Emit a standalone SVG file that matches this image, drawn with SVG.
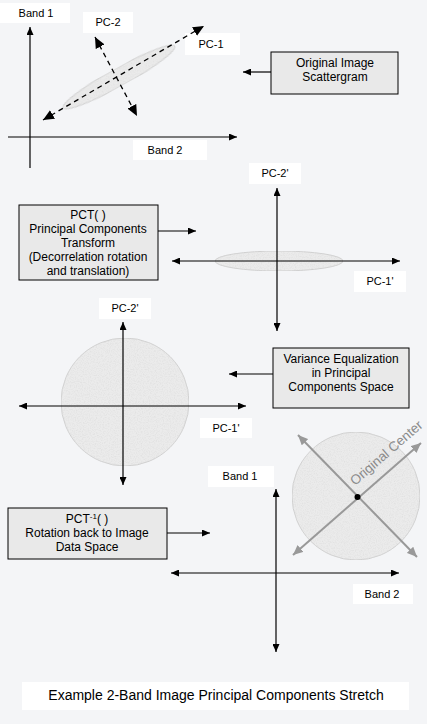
<svg xmlns="http://www.w3.org/2000/svg" width="427" height="724" viewBox="0 0 427 724">
<defs>
<marker id="ah" markerUnits="userSpaceOnUse" markerWidth="9" markerHeight="7" refX="8" refY="3.5" orient="auto-start-reverse"><path d="M0,0 L8,3.5 L0,7 z" fill="#000"/></marker>
<marker id="ahb" markerUnits="userSpaceOnUse" markerWidth="12" markerHeight="10" refX="11" refY="5" orient="auto-start-reverse"><path d="M0,0 L11,5 L0,10 z" fill="#000"/></marker>
<marker id="ahg" markerUnits="userSpaceOnUse" markerWidth="11" markerHeight="9" refX="10" refY="4.5" orient="auto-start-reverse"><path d="M0,0 L10,4.5 L0,9 z" fill="#999"/></marker>
<filter id="tex" x="0" y="0" width="1" height="1">
<feTurbulence type="fractalNoise" baseFrequency="0.85" numOctaves="2" seed="3" result="n"/>
<feColorMatrix in="n" type="matrix" values="0 0 0 0 0.72  0 0 0 0 0.72  0 0 0 0 0.72  0 0 0 -1.6 0.95" result="d"/>
<feComposite in="d" in2="SourceGraphic" operator="in" result="dd"/>
<feMerge><feMergeNode in="SourceGraphic"/><feMergeNode in="dd"/></feMerge>
</filter>
</defs>
<style>
text{font-family:"Liberation Sans",Arial,sans-serif;fill:#000;text-anchor:middle}
.lb{font-size:11px}
.bx{font-size:12px}
.lab{fill:#fff}
.box{fill:#e9e9e9;stroke:#000;stroke-width:1}
.ax{stroke:#000;stroke-width:1.2;fill:none}
.dash{stroke:#000;stroke-width:1.3;stroke-dasharray:5,4;fill:none}
.blob{fill:#ebebeb;stroke:#d0d0d0;stroke-width:1}
.g{stroke:#999;stroke-width:2;fill:none}
</style>
<rect width="427" height="724" fill="#f4f5f7"/>

<g id="graph1">
<rect class="lab" x="0" y="3" width="70" height="20"/>
<text class="lb" x="36" y="17">Band 1</text>
<rect class="lab" x="83" y="12" width="50" height="21"/>
<text class="lb" x="108" y="26">PC-2</text>
<rect class="lab" x="185" y="33" width="55" height="22"/>
<text class="lb" x="211" y="48">PC-1</text>
<rect class="lab" x="133" y="140" width="74" height="20"/>
<text class="lb" x="165" y="154">Band 2</text>
<ellipse class="blob" filter="url(#tex)" cx="119" cy="77" rx="64" ry="9" transform="rotate(-29 119 77)"/>
</g>

<g id="graph2">
<rect class="lab" x="249" y="163" width="52" height="21"/>
<text class="lb" x="275" y="177">PC-2'</text>
<rect class="lab" x="354" y="271" width="52" height="21"/>
<text class="lb" x="380" y="285">PC-1'</text>
<ellipse class="blob" filter="url(#tex)" cx="279" cy="261" rx="64" ry="10"/>
</g>

<g id="graph3">
<rect class="lab" x="99" y="298" width="52" height="21"/>
<text class="lb" x="125" y="312">PC-2'</text>
<rect class="lab" x="200" y="418" width="52" height="20"/>
<text class="lb" x="226" y="432">PC-1'</text>
<circle class="blob" filter="url(#tex)" cx="125" cy="402" r="64"/>
</g>

<g id="graph4">
<rect class="lab" x="208" y="466" width="66" height="21"/>
<text class="lb" x="240" y="480">Band 1</text>
<rect class="lab" x="353" y="584" width="60" height="20"/>
<text class="lb" x="382" y="598">Band 2</text>
<circle class="blob" filter="url(#tex)" cx="356" cy="496" r="64"/>
</g>

<g id="center">
<line class="g" x1="293" y1="555" x2="421" y2="443" marker-start="url(#ahg)" marker-end="url(#ahg)"/>
<line class="g" x1="298" y1="435" x2="417" y2="557" marker-start="url(#ahg)" marker-end="url(#ahg)"/>
<circle cx="357.5" cy="497" r="3" fill="#000"/>
<text transform="translate(355 486) rotate(-41)" style="font-size:13.5px;fill:#8a8a8a;text-anchor:start">Original Center</text>
</g>

<g id="box-original">
<rect class="box" x="271" y="52" width="127" height="42"/>
<text class="bx" x="335" y="67">Original Image</text>
<text class="bx" x="335" y="81">Scattergram</text>
</g>

<g id="box-pct">
<rect class="box" x="19" y="205" width="139" height="75"/>
<text class="bx" x="88" y="219">PCT( )</text>
<text class="bx" x="88" y="233">Principal Components</text>
<text class="bx" x="88" y="247">Transform</text>
<text class="bx" x="88" y="261">(Decorrelation rotation</text>
<text class="bx" x="88" y="275">and translation)</text>
</g>

<g id="box-variance">
<rect class="box" x="273" y="348" width="136" height="60"/>
<text class="bx" x="341" y="363">Variance Equalization</text>
<text class="bx" x="341" y="377">in Principal</text>
<text class="bx" x="341" y="391">Components Space</text>
</g>

<g id="box-inverse">
<rect class="box" x="8" y="508" width="159" height="51"/>
<text class="bx" x="87" y="523">PCT<tspan dy="-4" style="font-size:8px">-1</tspan><tspan dy="4">( )</tspan></text>
<text class="bx" x="87" y="537">Rotation back to Image</text>
<text class="bx" x="87" y="551">Data Space</text>
</g>

<g id="caption">
<rect class="lab" x="22" y="682" width="387" height="28"/>
<text x="216" y="700" style="font-size:14px">Example 2-Band Image Principal Components Stretch</text>
</g>

<g id="connectors">
<line class="ax" x1="30" y1="168" x2="30" y2="27" marker-end="url(#ah)"/>
<line class="ax" x1="8" y1="137" x2="237" y2="137" marker-end="url(#ah)"/>
<line class="dash" x1="43" y1="120" x2="204" y2="26" marker-start="url(#ahb)" marker-end="url(#ahb)"/>
<line class="dash" x1="95" y1="37" x2="137" y2="116" marker-start="url(#ahb)" marker-end="url(#ahb)"/>
<line class="ax" x1="271" y1="72" x2="243" y2="72" marker-end="url(#ah)"/>
<line class="ax" x1="158" y1="231" x2="196" y2="231" marker-end="url(#ah)"/>
<line class="ax" x1="277" y1="188" x2="277" y2="331" marker-start="url(#ah)" marker-end="url(#ah)"/>
<line class="ax" x1="172" y1="261" x2="400" y2="261" marker-start="url(#ah)" marker-end="url(#ah)"/>
<line class="ax" x1="273" y1="374" x2="229" y2="374" marker-end="url(#ah)"/>
<line class="ax" x1="123" y1="322" x2="123" y2="485" marker-start="url(#ah)" marker-end="url(#ah)"/>
<line class="ax" x1="19" y1="406" x2="246" y2="406" marker-start="url(#ah)" marker-end="url(#ah)"/>
<line class="ax" x1="167" y1="533" x2="210" y2="533" marker-end="url(#ah)"/>
<line class="ax" x1="276" y1="489" x2="276" y2="652" marker-start="url(#ah)" marker-end="url(#ah)"/>
<line class="ax" x1="171" y1="573" x2="399" y2="573" marker-start="url(#ah)" marker-end="url(#ah)"/>
</g>
</svg>
